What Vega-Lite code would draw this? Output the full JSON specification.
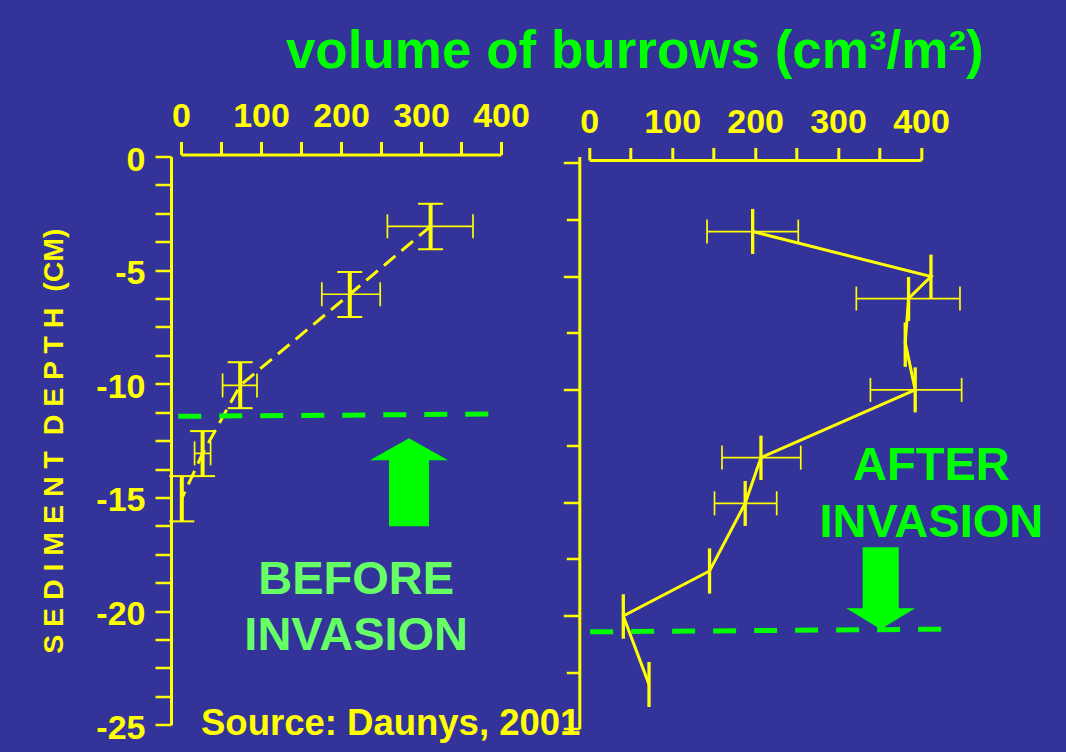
{
  "$schema": "https://vega.github.io/schema/vega-lite/v6.json",
  "background": "#333399",
  "padding": {"left": 39, "top": 25.5, "right": 30, "bottom": 12},
  "config": {
    "view": {"stroke": null},
    "axis": {
      "grid": false,
      "domainColor": "#FFFF00", "domainWidth": 3,
      "tickColor": "#FFFF00", "tickWidth": 2.5,
      "labelColor": "#FFFF00", "labelFont": "Liberation Sans", "labelFontWeight": "bold", "labelFontSize": 34,
      "labelOverlap": false, "labelFlush": false, "labelBound": false,
      "titleColor": "#FFFF00", "titleFont": "Liberation Sans", "titleFontWeight": "bold"
    }
  },
  "datasets": {
    "left": [
      {"vol": 312, "vlo": 258, "vhi": 365, "depth": -3.07, "dlo": -2.08, "dhi": -4.08},
      {"vol": 211, "vlo": 176, "vhi": 249, "depth": -6.06, "dlo": -5.08, "dhi": -7.06},
      {"vol": 74, "vlo": 52, "vhi": 95, "depth": -10.07, "dlo": -9.05, "dhi": -11.07},
      {"vol": 27, "vlo": 17, "vhi": 37, "depth": -13.06, "dlo": -12.08, "dhi": -14.06},
      {"vol": 1, "vlo": null, "vhi": null, "depth": -15.05, "dlo": -14.06, "dhi": -16.05}
    ],
    "right": [
      {"vol": 197, "vlo": 142, "vhi": 252, "depth": -3.03, "dlo": -2.03, "dhi": -4.02},
      {"vol": 412, "vlo": null, "vhi": null, "depth": -5.02, "dlo": -4.05, "dhi": -5.99},
      {"vol": 385, "vlo": 322, "vhi": 447, "depth": -5.99, "dlo": -5.04, "dhi": -6.98},
      {"vol": 381, "vlo": null, "vhi": null, "depth": -7.94, "dlo": -7.05, "dhi": -9.01},
      {"vol": 393, "vlo": 339, "vhi": 449, "depth": -10.03, "dlo": -9.03, "dhi": -11.02},
      {"vol": 207, "vlo": 160, "vhi": 255, "depth": -13.02, "dlo": -12.05, "dhi": -14.01},
      {"vol": 188, "vlo": 151, "vhi": 226, "depth": -15.04, "dlo": -14.05, "dhi": -16.04},
      {"vol": 145, "vlo": null, "vhi": null, "depth": -18.03, "dlo": -17.03, "dhi": -19.03},
      {"vol": 41, "vlo": null, "vhi": null, "depth": -20.02, "dlo": -19.06, "dhi": -21.02},
      {"vol": 72, "vlo": null, "vhi": null, "depth": -23.04, "dlo": -22.05, "dhi": -24.04}
    ],
    "leftGuide": [{"vol": -3.4, "depth": -11.43}, {"vol": 388, "depth": -11.33}],
    "rightGuide": [{"vol": 1, "depth": -20.72}, {"vol": 427, "depth": -20.6}],
    "leftArrow": [{"vol": 285, "depth": -14.33}],
    "rightArrow": [{"vol": 351.4, "depth": -18.79}],
    "leftText": [{"vol": 219, "depth": -19.26, "label": "BEFORE"}, {"vol": 219, "depth": -21.72, "label": "INVASION"}],
    "source": [{"vol": 25, "depth": -25.46, "label": "Source: Daunys, 2001"}],
    "rightText": [{"vol": 412.5, "depth": -14.02, "label": "AFTER"}, {"vol": 412.5, "depth": -16.54, "label": "INVASION"}],
    "titleText": [{"vol": 54.9, "depth": 4.216, "label": "volume of burrows (cm³/m²)"}]
  },
  "bounds": "flush",
  "spacing": 88.3,
  "hconcat": [
    {
      "width": 320,
      "height": 568.3,
      "encoding": {
        "x": {"field": "vol", "type": "quantitative", "scale": {"domain": [0, 400], "nice": false, "zero": false},
          "axis": {"orient": "top", "values": [0, 50, 100, 150, 200, 250, 300, 350, 400],
            "labelExpr": "datum.value % 100 === 0 ? datum.label : ''",
            "tickSize": 13, "tickWidth": 3, "offset": 2, "labelPadding": 8.4, "title": null}},
        "y": {"field": "depth", "type": "quantitative", "scale": {"domain": [-25, 0], "nice": false, "zero": false},
          "axis": {"orient": "left", "values": [0, -1.25, -2.5, -3.75, -5, -6.25, -7.5, -8.75, -10, -11.25, -12.5, -13.75, -15, -16.25, -17.5, -18.75, -20, -21.25, -22.5, -23.75, -25],
            "labelExpr": "datum.value % 5 === 0 ? '' + datum.value : ''",
            "tickSize": 16, "offset": 10, "labelPadding": 10, "labelOffset": 3.5,
            "title": "S E D I M E N T\u00a0 D E P T H\u00a0 (CM)", "titleFontSize": 28.5, "titlePadding": 27}}
      },
      "layer": [
        {
          "data": {"name": "left"},
          "mark": {"type": "line", "color": "#FFFF00", "strokeWidth": 3, "strokeDash": [15, 8]},
          "encoding": {
            "order": {"field": "depth", "type": "quantitative", "sort": "descending"}
          }
        },
        {
          "data": {"name": "left"},
          "mark": {"type": "rule", "color": "#FFFF00", "strokeWidth": 1.7},
          "encoding": {
            "x": {"field": "vlo", "type": "quantitative", "title": null},
            "x2": {"field": "vhi"}
          }
        },
        {
          "data": {"name": "left"},
          "mark": {"type": "tick", "orient": "vertical", "color": "#FFFF00", "size": 24, "thickness": 1.7, "opacity": 1},
          "encoding": {
            "x": {"field": "vlo", "type": "quantitative", "title": null}
          }
        },
        {
          "data": {"name": "left"},
          "mark": {"type": "tick", "orient": "vertical", "color": "#FFFF00", "size": 24, "thickness": 1.7, "opacity": 1},
          "encoding": {
            "x": {"field": "vhi", "type": "quantitative", "title": null}
          }
        },
        {
          "data": {"name": "left"},
          "mark": {"type": "rule", "color": "#FFFF00", "strokeWidth": 4},
          "encoding": {
            "y": {"field": "dlo", "type": "quantitative", "title": null},
            "y2": {"field": "dhi"}
          }
        },
        {
          "data": {"name": "left"},
          "mark": {"type": "tick", "orient": "horizontal", "color": "#FFFF00", "size": 25, "thickness": 2, "opacity": 1},
          "encoding": {
            "y": {"field": "dlo", "type": "quantitative", "title": null}
          }
        },
        {
          "data": {"name": "left"},
          "mark": {"type": "tick", "orient": "horizontal", "color": "#FFFF00", "size": 25, "thickness": 2, "opacity": 1},
          "encoding": {
            "y": {"field": "dhi", "type": "quantitative", "title": null}
          }
        },
        {
          "data": {"name": "leftGuide"},
          "mark": {"type": "line", "color": "#00FF00", "strokeWidth": 5, "strokeDash": [23, 18]}
        },
        {
          "data": {"name": "leftArrow"},
          "mark": {"type": "point", "filled": true, "color": "#00FF00", "opacity": 1, "strokeWidth": 0, "size": 7744,
            "shape": "M0,-1L0.89,-0.5L0.455,-0.5L0.455,1L-0.455,1L-0.455,-0.5L-0.89,-0.5Z"}
        },
        {
          "data": {"name": "leftText"},
          "mark": {"type": "text", "color": "#66FF66", "font": "Liberation Sans", "fontWeight": "bold", "fontSize": 47, "align": "center", "baseline": "alphabetic"},
          "encoding": {"text": {"field": "label"}}
        },
        {
          "data": {"name": "source"},
          "mark": {"type": "text", "color": "#FFFF00", "font": "Liberation Sans", "fontWeight": "bold", "fontSize": 36.5, "align": "left", "baseline": "alphabetic"},
          "encoding": {"text": {"field": "label"}}
        }
      ]
    },
    {
      "width": 331.7,
      "height": 572.2,
      "encoding": {
        "x": {"field": "vol", "type": "quantitative", "scale": {"domain": [0, 400], "nice": false, "zero": false},
          "axis": {"orient": "top", "values": [0, 50, 100, 150, 200, 250, 300, 350, 400],
            "labelExpr": "datum.value % 100 === 0 ? datum.label : ''",
            "tickSize": 12.5, "tickWidth": 3, "offset": -3.5, "labelPadding": 8.5, "title": null}},
        "y": {"field": "depth", "type": "quantitative", "scale": {"domain": [-25, 0.287], "nice": false, "zero": false},
          "axis": {"orient": "left", "values": [0, -2.5, -5, -7.5, -10, -12.5, -15, -17.5, -20, -22.5, -25],
            "labels": false, "tickSize": {"condition": {"test": "datum.value % 5 === 0", "value": 16}, "value": 13}, "offset": 10, "title": null}}
      },
      "layer": [
        {
          "data": {"name": "right"},
          "mark": {"type": "line", "color": "#FFFF00", "strokeWidth": 3},
          "encoding": {
            "order": {"field": "depth", "type": "quantitative", "sort": "descending"}
          }
        },
        {
          "data": {"name": "right"},
          "mark": {"type": "rule", "color": "#FFFF00", "strokeWidth": 1.7},
          "encoding": {
            "x": {"field": "vlo", "type": "quantitative", "title": null},
            "x2": {"field": "vhi"}
          }
        },
        {
          "data": {"name": "right"},
          "mark": {"type": "tick", "orient": "vertical", "color": "#FFFF00", "size": 24, "thickness": 1.7, "opacity": 1},
          "encoding": {
            "x": {"field": "vlo", "type": "quantitative", "title": null}
          }
        },
        {
          "data": {"name": "right"},
          "mark": {"type": "tick", "orient": "vertical", "color": "#FFFF00", "size": 24, "thickness": 1.7, "opacity": 1},
          "encoding": {
            "x": {"field": "vhi", "type": "quantitative", "title": null}
          }
        },
        {
          "data": {"name": "right"},
          "mark": {"type": "rule", "color": "#FFFF00", "strokeWidth": 3.3},
          "encoding": {
            "y": {"field": "dlo", "type": "quantitative", "title": null},
            "y2": {"field": "dhi"}
          }
        },
        {
          "data": {"name": "rightGuide"},
          "mark": {"type": "line", "color": "#00FF00", "strokeWidth": 5, "strokeDash": [23, 18]}
        },
        {
          "data": {"name": "rightArrow"},
          "mark": {"type": "point", "filled": true, "color": "#00FF00", "opacity": 1, "strokeWidth": 0, "size": 6724,
            "shape": "M-0.44,-1L0.44,-1L0.44,0.49L0.84,0.49L0,1L-0.84,0.49L-0.44,0.49Z"}
        },
        {
          "data": {"name": "rightText"},
          "mark": {"type": "text", "color": "#00FF00", "font": "Liberation Sans", "fontWeight": "bold", "fontSize": 47, "align": "center", "baseline": "alphabetic"},
          "encoding": {"text": {"field": "label"}}
        },
        {
          "data": {"name": "titleText"},
          "mark": {"type": "text", "color": "#00FF00", "font": "Liberation Sans", "fontWeight": "bold", "fontSize": 53, "align": "center", "baseline": "alphabetic"},
          "encoding": {"text": {"field": "label"}}
        }
      ]
    }
  ]
}
